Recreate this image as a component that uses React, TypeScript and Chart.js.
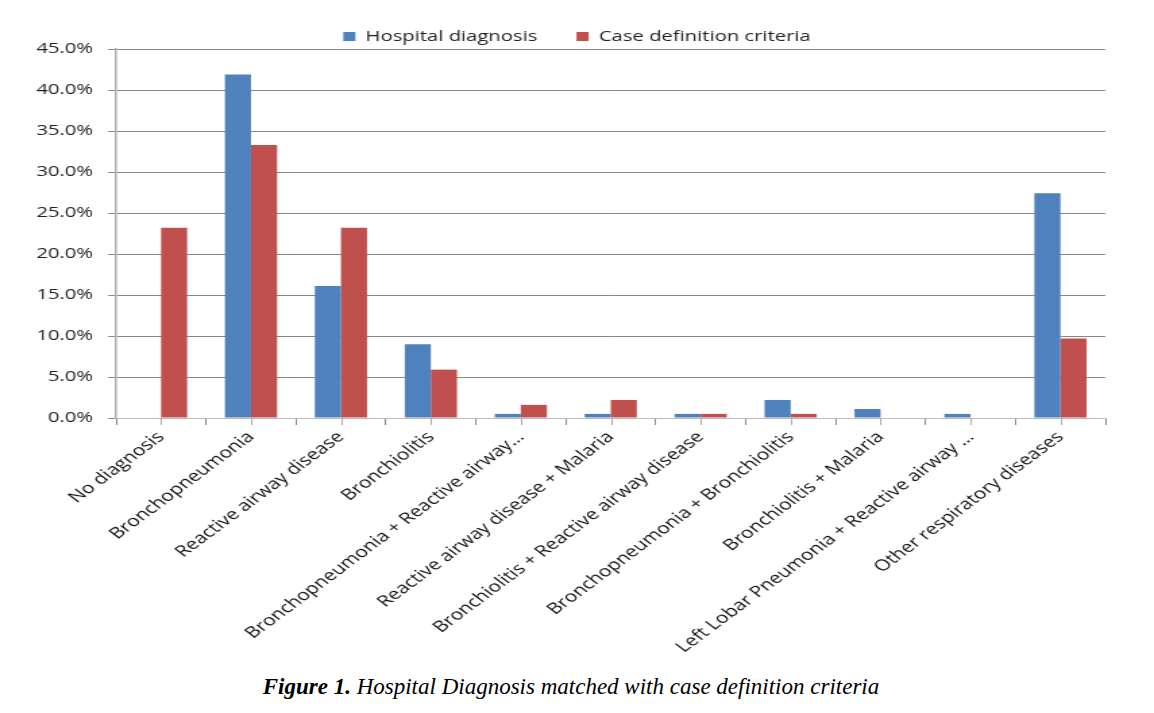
import React, { useEffect, useRef } from "react";
import { Chart, registerables } from "chart.js";

Chart.register(...registerables);

const categories = [
  "No diagnosis",
  "Bronchopneumonia",
  "Reactive airway disease",
  "Bronchiolitis",
  "Bronchopneumonia + Reactive airway…",
  "Reactive airway disease + Malaria",
  "Bronchiolitis + Reactive airway disease",
  "Bronchopneumonia + Bronchiolitis",
  "Bronchiolitis + Malaria",
  "Left Lobar Pneumonia + Reactive airway …",
  "Other respiratory diseases",
];

const hospitalDiagnosis = [0, 41.9, 16.1, 9.0, 0.5, 0.5, 0.5, 2.2, 1.1, 0.5, 27.4];
const caseDefinition = [23.2, 33.3, 23.2, 5.9, 1.6, 2.2, 0.5, 0.5, 0, 0, 9.7];

const seriesNames = ["Hospital diagnosis", "Case definition criteria"];
const yMin = 0;
const yMax = 45;
const yStep = 5;

const FONT = "'Open Sans', 'DejaVu Sans', sans-serif";
// The reference figure is horizontally stretched; draw narrower and stretch the canvas.
const STRETCH = 1.35;
const CSS_W = 1154;
const CANVAS_W = Math.round(CSS_W / STRETCH);
const CANVAS_H = 670;

const centerTicks = {
  id: "centerTicks",
  afterDraw(chart: any) {
    const x = chart.scales.x;
    const ctx = chart.ctx;
    ctx.save();
    ctx.strokeStyle = "#aaaaaa";
    ctx.lineWidth = 1;
    ctx.beginPath();
    for (let i = 0; i < categories.length; i++) {
      const px = Math.round(x.getPixelForValue(i)) + 0.5;
      ctx.moveTo(px, x.top);
      ctx.lineTo(px, x.top + 7);
    }
    ctx.stroke();
    ctx.restore();
  },
};

export default function App() {
  const canvasRef = useRef<HTMLCanvasElement | null>(null);

  useEffect(() => {
    if (!canvasRef.current) return;
    const chart = new Chart(canvasRef.current, {
      type: "bar",
      data: {
        labels: categories,
        datasets: [
          {
            label: seriesNames[0],
            data: hospitalDiagnosis,
            backgroundColor: "#4F81BD",
            borderWidth: 0,
          },
          {
            label: seriesNames[1],
            data: caseDefinition,
            backgroundColor: "#C0504D",
            borderWidth: 0,
          },
        ],
      },
      options: {
        responsive: false,
        animation: false,
        devicePixelRatio: 1,
        layout: { padding: { top: 0, left: 0, right: 0, bottom: 0 } },
        datasets: {
          bar: { categoryPercentage: 0.58, barPercentage: 1.0 },
        },
        plugins: {
          legend: {
            position: "top",
            maxHeight: 49,
            labels: {
              boxWidth: 9,
              boxHeight: 9,
              padding: 29,
              color: "#222",
              font: { family: FONT, size: 15 },
            },
          },
          tooltip: { enabled: false },
        },
        scales: {
          x: {
            offset: true,
            grid: {
              offset: true,
              drawOnChartArea: false,
              drawTicks: true,
              tickLength: 7,
              tickColor: "#888",
            },
            border: { color: "#bbbbbb", width: 1 },
            ticks: {
              autoSkip: false,
              maxRotation: 45,
              minRotation: 45,
              color: "#111",
              padding: 3,
              font: { family: FONT, size: 15.5 },
            },
            afterFit: (scale: any) => {
              scale.height = 252;
            },
          },
          y: {
            min: yMin,
            max: yMax,
            ticks: {
              stepSize: yStep,
              color: "#222",
              padding: 11,
              font: { family: FONT, size: 15 },
              callback: (v: any) => Number(v).toFixed(1) + "%",
            },
            grid: {
              color: "#888888",
              lineWidth: 1,
              tickLength: 6,
              tickColor: "#888",
            },
            border: { color: "#aaaaaa", width: 1.5 },
            afterFit: (scale: any) => {
              scale.width = Math.round(116 / STRETCH);
            },
          },
          yRight: {
            type: "linear",
            position: "right",
            display: true,
            grid: { display: false, drawTicks: false },
            border: { display: false },
            ticks: { display: false },
            afterFit: (scale: any) => {
              scale.width = Math.round(48 / STRETCH);
            },
          },
        },
      },
      plugins: [centerTicks],
    });
    return () => chart.destroy();
  }, []);

  return (
    <div style={{ position: "absolute", left: 0, top: 0, width: 1154, height: 713, background: "#fff" }}>
      <canvas
        ref={canvasRef}
        width={CANVAS_W}
        height={CANVAS_H}
        style={{ display: "block", width: CSS_W, height: CANVAS_H }}
      />
      <div
        style={{
          position: "absolute",
          top: 674,
          left: -6,
          width: 1154,
          textAlign: "center",
          fontFamily: "'Liberation Serif', 'DejaVu Serif', serif",
          fontStyle: "italic",
          fontSize: 23,
          color: "#000",
        }}
      >
        <b>Figure 1.</b> Hospital Diagnosis matched with case definition criteria
      </div>
    </div>
  );
}
